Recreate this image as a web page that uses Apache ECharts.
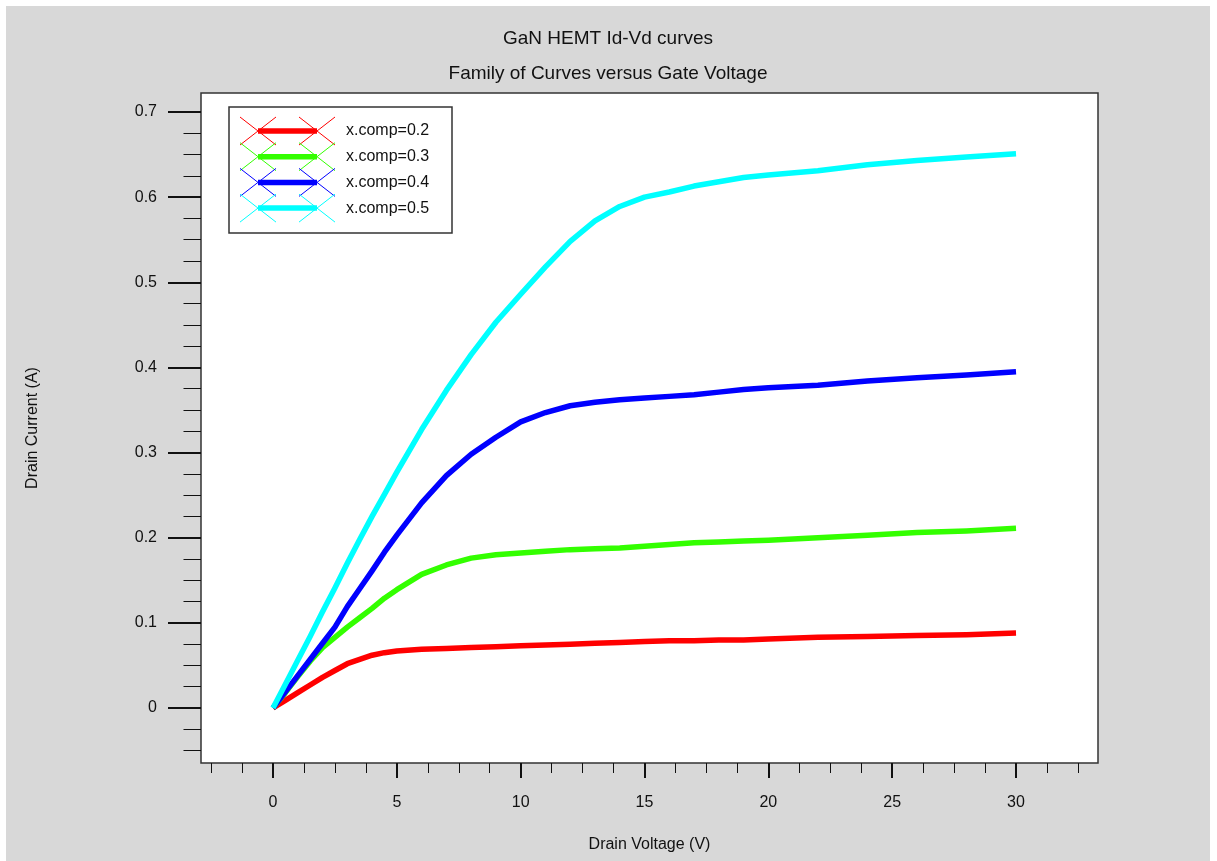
<!DOCTYPE html>
<html>
<head>
<meta charset="utf-8">
<title>GaN HEMT Id-Vd curves</title>
<script src="https://cdn.jsdelivr.net/npm/echarts@6/dist/echarts.min.js"></script>
<style>
  html, body { margin: 0; padding: 0; background: #ffffff; width: 1217px; height: 861px; overflow: hidden; }
  #chart { position: absolute; left: 6px; top: 6px; width: 1204px; height: 855px; }
</style>
</head>
<body>
<div id="chart"></div>
<script>
// Drain voltage sweep (V)
const drainVoltage = [0, 0.5, 1, 1.5, 2, 2.5, 3, 3.5, 4, 4.5, 5, 6, 7, 8, 9, 10, 11, 12, 13, 14, 15,
  16, 17, 18, 19, 20, 22, 24, 26, 28, 30];

// Drain current (A) for each AlGaN mole fraction
const idComp02 = [0, 0.009, 0.018, 0.027, 0.036, 0.044, 0.052, 0.057, 0.062, 0.065, 0.067, 0.069, 0.070,
  0.071, 0.072, 0.073, 0.074, 0.075, 0.076, 0.077, 0.078, 0.079, 0.079, 0.080, 0.080, 0.081, 0.083, 0.084,
  0.085, 0.086, 0.088];
const idComp03 = [0, 0.018, 0.037, 0.055, 0.071, 0.083, 0.095, 0.106, 0.117, 0.129, 0.139, 0.157, 0.168,
  0.176, 0.180, 0.182, 0.184, 0.186, 0.187, 0.188, 0.190, 0.192, 0.194, 0.195, 0.196, 0.197, 0.200, 0.203,
  0.206, 0.208, 0.211];
const idComp04 = [0, 0.019, 0.038, 0.057, 0.076, 0.095, 0.119, 0.140, 0.161, 0.183, 0.203, 0.241, 0.273,
  0.298, 0.318, 0.336, 0.347, 0.355, 0.359, 0.362, 0.364, 0.366, 0.368, 0.371, 0.374, 0.376, 0.379, 0.384,
  0.388, 0.391, 0.395];
const idComp05 = [0, 0.028, 0.056, 0.084, 0.113, 0.141, 0.170, 0.198, 0.225, 0.251, 0.277, 0.327, 0.373,
  0.415, 0.453, 0.486, 0.518, 0.548, 0.572, 0.589, 0.600, 0.606, 0.613, 0.618, 0.623, 0.626, 0.631, 0.638,
  0.643, 0.647, 0.651];

const seriesNames = ['x.comp=0.2', 'x.comp=0.3', 'x.comp=0.4', 'x.comp=0.5'];
const seriesValues = [idComp02, idComp03, idComp04, idComp05];

// Tick positions
const xMajorTicks = [0, 5, 10, 15, 20, 25, 30];
const xMinorTicks = [-2.5, -1.25, 1.25, 2.5, 3.75, 6.25, 7.5, 8.75, 11.25, 12.5, 13.75, 16.25, 17.5, 18.75,
  21.25, 22.5, 23.75, 26.25, 27.5, 28.75, 31.25, 32.5];
const yMajorTicks = [0, 0.1, 0.2, 0.3, 0.4, 0.5, 0.6, 0.7];
const yMinorTicks = [-0.05, -0.025, 0.025, 0.05, 0.075, 0.125, 0.15, 0.175, 0.225, 0.25, 0.275, 0.325, 0.35,
  0.375, 0.425, 0.45, 0.475, 0.525, 0.55, 0.575, 0.625, 0.65, 0.675];

// Axis extents
const xRange = [-2.907, 33.31];
const yRange = [-0.0646, 0.7223];

const FONT = '"Liberation Sans", Arial, sans-serif';
const TEXT = '#111111';
const colors = ['#ff0000', '#33ff00', '#0000ff', '#00ffff'];

const chart = echarts.init(document.getElementById('chart'), null, { renderer: 'canvas' });

function makeSeries(i) {
  return {
    name: seriesNames[i],
    type: 'line',
    xAxisIndex: 0,
    yAxisIndex: 0,
    showSymbol: false,
    smooth: false,
    lineStyle: { color: colors[i], width: 5.5, join: 'round' },
    itemStyle: { color: colors[i] },
    data: drainVoltage.map((v, k) => [v, seriesValues[i][k]])
  };
}

// Legend box with line-and-cross keys
function legendGraphics() {
  const els = [{
    type: 'rect',
    shape: { x: 223, y: 101, width: 223, height: 126 },
    style: { fill: '#ffffff', stroke: '#333333', lineWidth: 1.5 },
    z: 10
  }];
  seriesNames.forEach((name, i) => {
    const cy = 125 + i * 25.7;
    const c = colors[i];
    [252, 311].forEach(cx => {
      els.push({ type: 'line', shape: { x1: cx - 18, y1: cy - 14, x2: cx + 18, y2: cy + 14 },
        style: { stroke: c, lineWidth: 1 }, z: 11 });
      els.push({ type: 'line', shape: { x1: cx + 18, y1: cy - 14, x2: cx - 18, y2: cy + 14 },
        style: { stroke: c, lineWidth: 1 }, z: 11 });
    });
    els.push({ type: 'line', shape: { x1: 252, y1: cy, x2: 311, y2: cy },
      style: { stroke: c, lineWidth: 5.5 }, z: 12 });
    els.push({ type: 'text', x: 340, y: cy,
      style: { text: name, fill: TEXT, font: '16px ' + FONT, verticalAlign: 'middle' },
      z: 12 });
  });
  return els;
}

const baseAxisText = { color: TEXT, fontSize: 16, fontFamily: FONT };
const titleText = { fontSize: 19, fontWeight: 'normal', color: TEXT, fontFamily: FONT };

const option = {
  animation: false,
  backgroundColor: '#d8d8d8',
  title: [
    { text: 'GaN HEMT Id-Vd curves', left: 'center', top: 23, padding: 0, textStyle: titleText },
    { text: 'Family of Curves versus Gate Voltage', left: 'center', top: 58, padding: 0, textStyle: titleText }
  ],
  grid: {
    left: 195, top: 87, right: 112, bottom: 98,
    show: true, backgroundColor: '#ffffff', borderColor: '#333333', borderWidth: 1.5
  },
  xAxis: [
    {
      type: 'value', min: xRange[0], max: xRange[1], position: 'bottom',
      axisLine: { show: false, onZero: false }, splitLine: { show: false },
      axisTick: { show: true, customValues: xMajorTicks, length: 15, lineStyle: { color: TEXT, width: 2 } },
      axisLabel: Object.assign({ customValues: xMajorTicks, margin: 32 }, baseAxisText),
      name: 'Drain Voltage (V)', nameLocation: 'middle', nameGap: 74,
      nameTextStyle: baseAxisText
    },
    {
      type: 'value', min: xRange[0], max: xRange[1], position: 'bottom',
      axisLine: { show: false, onZero: false }, splitLine: { show: false },
      axisTick: { show: true, customValues: xMinorTicks, length: 10, lineStyle: { color: TEXT, width: 1 } },
      axisLabel: { show: false }
    }
  ],
  yAxis: [
    {
      type: 'value', min: yRange[0], max: yRange[1], position: 'left',
      axisLine: { show: false, onZero: false }, splitLine: { show: false },
      axisTick: { show: true, customValues: yMajorTicks, length: 33, lineStyle: { color: TEXT, width: 2 } },
      axisLabel: Object.assign({ customValues: yMajorTicks, margin: 44 }, baseAxisText),
      name: 'Drain Current (A)', nameLocation: 'middle', nameGap: 160, nameRotate: 90,
      nameTextStyle: baseAxisText
    },
    {
      type: 'value', min: yRange[0], max: yRange[1], position: 'left',
      axisLine: { show: false, onZero: false }, splitLine: { show: false },
      axisTick: { show: true, customValues: yMinorTicks, length: 17.5, lineStyle: { color: TEXT, width: 1 } },
      axisLabel: { show: false }
    }
  ],
  graphic: legendGraphics(),
  series: [0, 1, 2, 3].map(makeSeries)
};

chart.setOption(option);
</script>
</body>
</html>
